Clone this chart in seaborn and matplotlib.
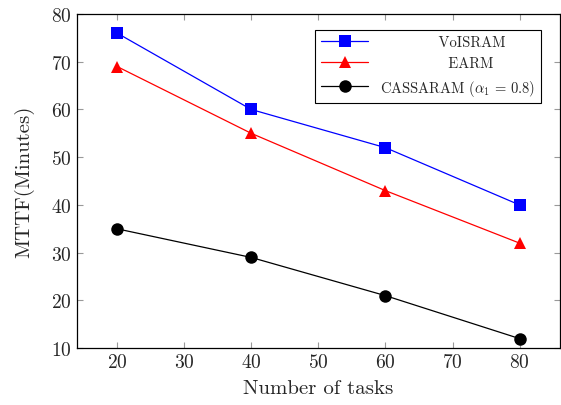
import numpy as np
import pandas as pd
import matplotlib
matplotlib.use("Agg")
import matplotlib.pyplot as plt
import seaborn as sns

tasks = [20, 40, 60, 80]
voisram = [76, 60, 52, 40]
earm = [69, 55, 43, 32]
cassaram = [35, 29, 21, 12]
labels = ["VoISRAM", "EARM", r"CASSARAM ($\alpha_1\,=\,0.8$)"]
colors = ["#0000ff", "#ff0000", "#000000"]
markers = ["s", "^", "o"]

sns.set_style("ticks")
plt.rcParams["font.family"] = ["cmr10", "DejaVu Serif"]
plt.rcParams["mathtext.fontset"] = "cm"
plt.rcParams["axes.formatter.use_mathtext"] = True

df = pd.DataFrame({
    "tasks": tasks * 3,
    "mttf": voisram + earm + cassaram,
    "series": [labels[0]] * 4 + [labels[1]] * 4 + [labels[2]] * 4,
})

fig = plt.figure(figsize=(5.61, 4.06), dpi=100)
ax = fig.add_axes([0.137, 0.140, 0.861, 0.823])
sns.lineplot(data=df, x="tasks", y="mttf", hue="series", style="series",
             palette=colors, markers=markers, dashes=False, markersize=9,
             linewidth=0.9, markeredgewidth=0, ax=ax)

ax.set_xlim(14, 86)
ax.set_ylim(10, 80)
ax.set_xticks([20, 30, 40, 50, 60, 70, 80])
ax.set_yticks([10, 20, 30, 40, 50, 60, 70, 80])
ax.tick_params(direction="in", length=4, color="#999999", labelsize=14, width=0.8)
ax.tick_params(top=True, right=True)
for s in ax.spines.values():
    s.set_linewidth(0.9)
    s.set_color("black")
ax.set_xlabel("Number of tasks", fontsize=15, labelpad=6)
ax.set_ylabel("MTTF(Minutes)", fontsize=15, labelpad=12)

h, l = ax.get_legend_handles_labels()
disp = ["            VoISRAM", "              EARM", r"CASSARAM ($\alpha_1\,=\,0.8$)"]
leg = ax.legend(h, disp, loc="upper right", bbox_to_anchor=(0.975, 0.975),
                fontsize=10.5, frameon=True, fancybox=False, edgecolor="black",
                framealpha=1, borderpad=0.4, labelspacing=0.5, handlelength=3.2)
leg.get_frame().set_linewidth(0.8)

fig.savefig("out.png", dpi=100)
